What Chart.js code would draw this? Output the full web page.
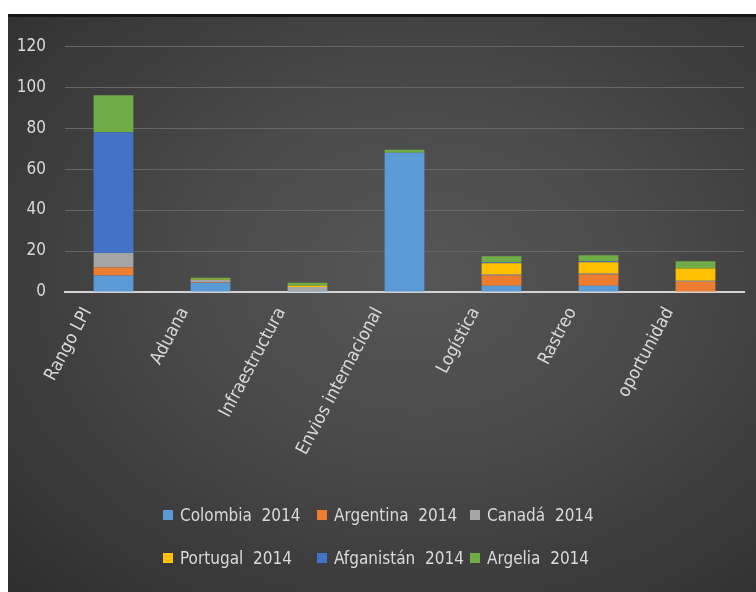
<!DOCTYPE html>
<html>
<head>
<meta charset="utf-8">
<script src="https://cdn.jsdelivr.net/npm/chart.js@4.4.1/dist/chart.umd.min.js"></script>
<style>
    body {
        margin: 0;
        width: 756px;
        height: 592px;
        background: #ffffff;
        overflow: hidden;
        font-family: 'Liberation Sans Narrow', 'DejaVu Sans Condensed', sans-serif;
    }
    #chartBox {
        position: absolute;
        left: 8px;
        top: 14px;
        width: 748px;
        height: 578px;
        border-top: 3px solid #151515;
        box-sizing: border-box;
        background: radial-gradient(ellipse at 55% 45%, #565656 0%, #4a4a4a 40%, #3a3a3a 75%, #2e2e2e 100%);
    }
    #lpiChart {
        position: absolute;
        left: 0;
        top: 0;
    }
    #legend {
        position: absolute;
        left: 155px;
        top: 485px;
        display: grid;
        grid-template-columns: 154px 153px 140px;
        row-gap: 18px;
        color: #dadada;
        font-size: 17px;
    }
    .legend-item {
        display: flex;
        align-items: center;
        white-space: pre;
        height: 25px;
    }
    .legend-box {
        flex-shrink: 0;
        width: 10px;
        height: 10px;
        margin-right: 7px;
    }
</style>
</head>
<body>
<div id="chartBox">
    <canvas id="lpiChart" width="748" height="575"></canvas>
    <div id="legend"></div>
</div>
<script>
// categories and values per country (2014)
const categories = ['Rango LPI', 'Aduana', 'Infraestructura', 'Envios internacional', 'Logística', 'Rastreo', 'oportunidad'];
const colombia = [8, 4.5, 0.5, 68, 3, 3, 0];
const argentina = [4, 0.3, 0, 0, 5, 5.5, 5];
const canada = [7, 1, 2, 0, 0.5, 0.5, 0.5];
const portugal = [0, 0.2, 0.5, 0, 5.5, 5.5, 6];
const afganistan = [59, 0, 0, 0, 0.5, 0.5, 0];
const argelia = [18, 1, 1.5, 1.5, 3, 3, 3.5];
const yTicks = [0, 20, 40, 60, 80, 100, 120];

const seriesNames = ['Colombia  2014', 'Argentina  2014', 'Canadá  2014', 'Portugal  2014', 'Afganistán  2014', 'Argelia  2014'];
const seriesColors = ['#5b9bd5', '#ed7d31', '#a5a5a5', '#ffc000', '#4472c4', '#70ad47'];
const seriesData = [colombia, argentina, canada, portugal, afganistan, argelia];

const fontFamily = "'Liberation Sans Narrow', 'DejaVu Sans Condensed', sans-serif";
const textColor = '#d9d9d9';

const datasets = seriesData.map((values, i) => ({
    label: seriesNames[i],
    data: values,
    backgroundColor: seriesColors[i],
    borderWidth: 0,
    barPercentage: 0.41,
    categoryPercentage: 1
}));

const ctx = document.getElementById('lpiChart').getContext('2d');

const lpiChart = new Chart(ctx, {
    type: 'bar',
    data: {
        labels: categories,
        datasets: datasets
    },
    options: {
        responsive: false,
        animation: false,
        layout: {
            padding: {top: 25, right: 12, bottom: 120, left: 0}
        },
        plugins: {
            legend: {display: false},
            tooltip: {enabled: false}
        },
        scales: {
            x: {
                stacked: true,
                grid: {display: false},
                border: {display: true, color: '#d4d4d4', width: 2},
                ticks: {
                    color: textColor,
                    font: {family: fontFamily, size: 18},
                    minRotation: 62,
                    maxRotation: 62,
                    padding: 4,
                    labelOffset: -26
                },
                afterFit: (scale) => {
                    scale.height = 180;
                }
            },
            y: {
                stacked: true,
                min: 0,
                max: 120,
                afterBuildTicks: (scale) => {
                    scale.ticks = yTicks.map(v => ({value: v}));
                },
                grid: {color: '#676767', lineWidth: 1, drawTicks: false},
                border: {display: false},
                ticks: {
                    color: textColor,
                    font: {family: fontFamily, size: 17},
                    padding: 19
                },
                afterFit: (scale) => {
                    scale.width = 57;
                }
            }
        }
    }
});

// legend in a 3 x 2 grid under the chart
const legend = document.getElementById('legend');
lpiChart.data.datasets.forEach((ds) => {
    legend.insertAdjacentHTML('beforeend',
        `<div class="legend-item"><span class="legend-box" style="background:${ds.backgroundColor}"></span>${ds.label}</div>`
    );
});
</script>
</body>
</html>
